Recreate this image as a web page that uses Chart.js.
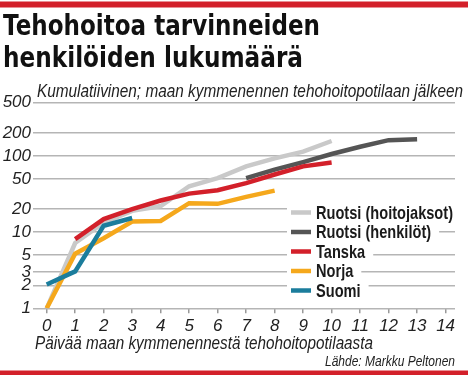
<!DOCTYPE html>
<html>
<head>
<meta charset="utf-8">
<script src="https://cdn.jsdelivr.net/npm/chart.js@4"></script>
<style>
  html, body { margin: 0; padding: 0; background: #fff; }
  #wrap { width: 468px; height: 375px; }
</style>
</head>
<body>
<div id="wrap"><canvas id="chart" width="468" height="375"></canvas></div>
<script>
// data (days after the 10th ICU patient)
const days = [0, 1, 2, 3, 4, 5, 6, 7, 8, 9, 10, 11, 12, 13, 14];
const yTicks = [1, 2, 3, 5, 10, 20, 50, 100, 200, 500];

const ruotsiHoito = [1, 7.2, 13.3, 19, 22, 40, 51, 73, 93, 114, 157];
const ruotsiHenk = [null, null, null, null, null, null, null, 51, 66, 83, 106, 132, 161, 166];
const tanska = [null, 8.1, 14.8, 20, 26, 32, 35.5, 44, 57, 73, 82];
const norja = [1, 5.2, 8.3, 13.8, 14, 24, 23.5, 29, 35];
const suomi = [2.05, 3.05, 12.1, 15.3];

const seriesNames = ["Ruotsi (hoitojaksot)", "Ruotsi (henkilöt)", "Tanska", "Norja", "Suomi"];
const seriesColors = ["#c9c9c9", "#555555", "#d3202a", "#f5a81c", "#1b7d9c"];

function points(arr) {
    return arr.map((v, i) => ({ x: days[i], y: v })).filter(p => p.y != null);
}

// draw text squeezed to a given width (the original uses a condensed face)
function fitText(ctx, s, x, y, font, width, align) {
    ctx.font = font;
    const w = ctx.measureText(s).width;
    const sx = width ? width / w : 1;
    ctx.save();
    ctx.translate(x, y);
    ctx.scale(sx, 1);
    ctx.textAlign = align || "left";
    ctx.fillText(s, 0, 0);
    ctx.restore();
    return w * sx;
}

const decor = {
    id: "decor",
    beforeDatasetsDraw(chart) {
        // chart.js drops the grid line sitting on the top edge; put back any missing one
        const ys = chart.scales.y;
        const drawn = (ys._gridLineItems || []).map(it => Math.round(it.y1));
        const ctx = chart.ctx;
        ctx.save();
        ctx.strokeStyle = "#b5b5b5";
        ctx.lineWidth = 1.5;
        yTicks.forEach(v => {
            const py = ys.getPixelForValue(v);
            if (drawn.some(d => Math.abs(d - py) < 1.5)) return;
            ctx.beginPath();
            ctx.moveTo(chart.chartArea.left, py);
            ctx.lineTo(chart.chartArea.right, py);
            ctx.stroke();
        });
        ctx.restore();
    },
    afterDraw(chart) {
        const ctx = chart.ctx;
        ctx.save();

        // red bands
        ctx.fillStyle = "#d3202a";
        ctx.fillRect(0, 1.5, 468, 6);
        ctx.fillRect(0, 370.5, 468, 5);

        ctx.fillStyle = "#111";
        ctx.textBaseline = "alphabetic";
        fitText(ctx, "Tehohoitoa tarvinneiden", 3, 35, "bold 29px 'DejaVu Sans'", 317);
        fitText(ctx, "henkilöiden lukumäärä", 3, 66.5, "bold 29px 'DejaVu Sans'", 300);

        ctx.fillStyle = "#222";
        fitText(ctx, "Kumulatiivinen; maan kymmenennen tehohoitopotilaan jälkeen", 37, 96.5,
            "italic 18px 'Liberation Sans'", 426);
        fitText(ctx, "Päivää maan kymmenennestä tehohoitopotilaasta", 35, 348.5,
            "italic 18px 'Liberation Sans'", 338);
        fitText(ctx, "Lähde: Markku Peltonen", 455, 365.5, "italic 15px 'Liberation Sans'", 130, "right");

        // legend
        const lfont = "bold 19px 'Liberation Sans'";
        ctx.font = lfont;
        const sx = 137 / ctx.measureText(seriesNames[0]).width;
        seriesNames.forEach((name, i) => {
            const cy = 212.5 + i * 19.5;
            ctx.font = lfont;
            const tw = ctx.measureText(name).width * sx;
            ctx.fillStyle = "#fff";
            ctx.fillRect(287, cy - 10, 316 + tw + 8 - 287, 20);
            ctx.strokeStyle = seriesColors[i];
            ctx.lineWidth = 4.5;
            ctx.beginPath();
            ctx.moveTo(291, cy);
            ctx.lineTo(311, cy);
            ctx.stroke();
            ctx.fillStyle = "#1a1a1a";
            ctx.textBaseline = "middle";
            ctx.save();
            ctx.translate(316, cy + 1);
            ctx.scale(sx, 1);
            ctx.textAlign = "left";
            ctx.fillText(name, 0, 0);
            ctx.restore();
        });
        ctx.restore();
    }
};

const series = [ruotsiHoito, ruotsiHenk, tanska, norja, suomi];

new Chart(document.getElementById("chart"), {
    type: "line",
    data: {
        datasets: series.map((arr, i) => ({
            label: seriesNames[i],
            data: points(arr),
            borderColor: seriesColors[i],
            borderWidth: 4.5,
            pointRadius: 0,
            tension: 0,
            fill: false,
            order: 5 - i
        }))
    },
    options: {
        responsive: false,
        animation: false,
        devicePixelRatio: 1,
        layout: { padding: { top: 102.6, right: 13, bottom: 36.7, left: 0 } },
        plugins: {
            legend: { display: false },
            tooltip: { enabled: false }
        },
        scales: {
            x: {
                type: "linear",
                min: -0.48,
                max: 14.33,
                afterBuildTicks: s => { s.ticks = days.map(v => ({ value: v })); },
                afterFit: s => { s.height = 30; },
                border: { display: false },
                grid: { drawOnChartArea: false, drawTicks: true, tickLength: 5, color: "#999", lineWidth: 1.5 },
                ticks: {
                    autoSkip: false, maxRotation: 0, padding: 3, color: "#222",
                    font: { family: "'Liberation Sans'", size: 17, style: "italic" }
                }
            },
            y: {
                type: "logarithmic",
                min: 1,
                max: 501,
                afterBuildTicks: s => { s.ticks = yTicks.map(v => ({ value: v })); },
                afterFit: s => { s.width = 33; },
                border: { display: false },
                grid: { color: "#b5b5b5", lineWidth: 1.5, drawTicks: false },
                ticks: {
                    autoSkip: false, padding: 2, color: "#222",
                    callback: v => String(v),
                    font: { family: "'Liberation Sans'", size: 17, style: "italic" }
                }
            }
        }
    },
    plugins: [decor]
});
</script>
</body>
</html>
